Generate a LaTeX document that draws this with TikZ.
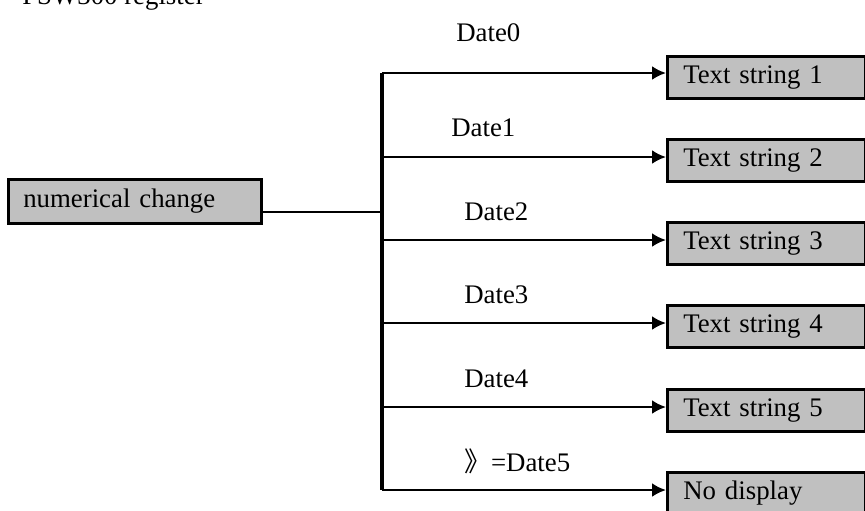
\documentclass[tikz,border=0pt]{standalone}
\usepackage{fontspec}
\setmainfont{Liberation Serif}
\newfontfamily\cjk{Noto Sans CJK SC}
\usetikzlibrary{arrows.meta}
\definecolor{boxgray}{RGB}{192,192,192}

\begin{document}
\begin{tikzpicture}[x=0.5pt, y=-0.5pt, line width=1.3pt,
    graybox/.style={rectangle, draw, line width=1.3pt, fill=boxgray, anchor=north west,
        inner xsep=8pt, inner ysep=0pt, align=left, font=\fontsize{13.4}{16}\selectfont},
    datelbl/.style={anchor=base west, inner sep=0pt, font=\fontsize{13.4}{16}\selectfont},
    flow/.style={-{Latex[length=7pt, width=7pt]}}]
    \useasboundingbox (0,0) rectangle (865,510);

    % title, cut at the top edge
    \node[datelbl] (title) at (21,4) {PSW300 register};

    % source box
    \node[graybox, text width=111.5pt, minimum height=22pt, inner xsep=7.5pt] (change) at (7,178) {numerical change};

    % bus
    \coordinate (b0) at (382,73);
    \coordinate (b1) at (382,157);
    \coordinate (b2) at (382,240);
    \coordinate (b3) at (382,323);
    \coordinate (b4) at (382,407);
    \coordinate (b5) at (382,490);
    \coordinate (bmid) at (382,212);
    \draw[line width=1.7pt] (b0) -- (b5);
    \draw (change.east |- bmid) -- (bmid);

    % text boxes
    \node[graybox, text width=83pt, minimum height=21pt] (str1) at (666,55) {Text string 1};
    \node[graybox, text width=83pt, minimum height=21pt] (str2) at (666,138) {Text string 2};
    \node[graybox, text width=83pt, minimum height=21pt] (str3) at (666,221) {Text string 3};
    \node[graybox, text width=83pt, minimum height=21pt] (str4) at (666,304) {Text string 4};
    \node[graybox, text width=83pt, minimum height=21pt] (str5) at (666,388) {Text string 5};
    \node[graybox, text width=83pt, minimum height=21pt] (nodisp) at (666,471) {No display};

    % arrows
    \draw[flow] (b0) -- (str1.west |- b0);
    \draw[flow] (b1) -- (str2.west |- b1);
    \draw[flow] (b2) -- (str3.west |- b2);
    \draw[flow] (b3) -- (str4.west |- b3);
    \draw[flow] (b4) -- (str5.west |- b4);
    \draw[flow] (b5) -- (nodisp.west |- b5);

    % value labels
    \node[datelbl] (d0) at (455,41) {Date0};
    \node[datelbl] (d1) at (450,136) {Date1};
    \node[datelbl] (d2) at (463,220) {Date2};
    \node[datelbl] (d3) at (463,303) {Date3};
    \node[datelbl] (d4) at (463,387) {Date4};
    \node[datelbl] (d5) at (463,471) {{\cjk 》}=Date5};
\end{tikzpicture}
\end{document}
